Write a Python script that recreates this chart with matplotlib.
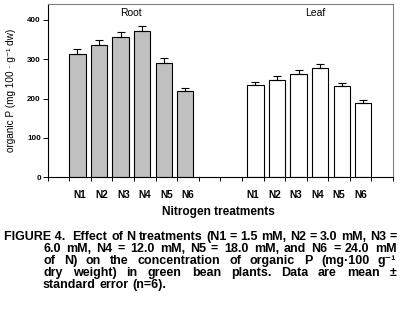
import matplotlib
matplotlib.use("Agg")
import matplotlib.pyplot as plt
import numpy as np

plt.rcParams['font.family'] = ['Liberation Sans', 'DejaVu Sans']

# data
treatments = ["N1", "N2", "N3", "N4", "N5", "N6"]
root_mean = [313, 336, 356, 371, 290, 219]
root_se = [12, 12, 14, 12, 13, 7]
leaf_mean = [234, 247, 262, 277, 232, 188]
leaf_se = [8, 10, 10, 11, 8, 8]

caption_lines = [
    "FIGURE 4.  Effect of N treatments (N1 = 1.5 mM, N2 = 3.0 mM, N3 =",
    "6.0 mM, N4 = 12.0 mM, N5 = 18.0 mM, and N6 = 24.0 mM",
    "of N) on the concentration of organic P (mg\u00b7100 g\u207b\u00b9",
    "dry weight) in green bean plants. Data are mean \u00b1",
    "standard error (n=6).",
]

W, H = 403, 310
fig = plt.figure(figsize=(W / 100, H / 100), dpi=100)
ax = fig.add_axes([47.7 / W, 1 - 177.3 / H, (393 - 47.7) / W, (177.3 - 4) / H])

n_cat = 16
root_pos = np.arange(1, 7)
leaf_pos = np.arange(9, 15)
bw = 0.755

ax.bar(root_pos, root_mean, width=bw, align="edge", color="#c0c0c0",
       edgecolor="black", linewidth=0.8)
ax.errorbar(root_pos + bw / 2, root_mean, yerr=[np.zeros(6), root_se], fmt="none",
            ecolor="black", elinewidth=0.8, capsize=3, capthick=0.8)
ax.bar(leaf_pos + 1 - bw, leaf_mean, width=bw, align="edge", color="white",
       edgecolor="black", linewidth=0.8)
ax.errorbar(leaf_pos + 1 - bw / 2, leaf_mean, yerr=[np.zeros(6), leaf_se], fmt="none",
            ecolor="black", elinewidth=0.8, capsize=3, capthick=0.8)

ax.set_xlim(0, n_cat)
ax.set_ylim(0, 440)
ax.set_yticks([0, 100, 200, 300, 400])
ax.tick_params(axis="y", direction="out", length=3.5, width=0.7, labelsize=5.8, pad=1.5)
for lb in ax.get_yticklabels():
    lb.set_fontweight("bold")

ax.set_xticks(np.arange(0, n_cat + 1))
ax.set_xticklabels([])
ax.set_xticks(np.concatenate([root_pos + 0.5, leaf_pos + 0.5]), minor=True)
ax.set_xticklabels(treatments + treatments, minor=True, fontsize=7.2, fontweight="bold")
ax.tick_params(axis="x", which="major", direction="out", length=3, width=0.7)
ax.tick_params(axis="x", which="minor", length=0, pad=9)

for side in ["top", "right"]:
    ax.spines[side].set_color("#808080")
for side in ["left", "bottom"]:
    ax.spines[side].set_linewidth(0.8)

ax.text(3.85, 416, "Root", ha="center", va="center", fontsize=7.5)
ax.text(12.4, 416, "Leaf", ha="center", va="center", fontsize=7.5)

ax.set_ylabel("organic P (mg 100 \u00b7 g\u207b\u00b9 dw)", fontsize=7.2)
ax.yaxis.set_label_coords(-(47.7 - 15.7) / (393 - 47.7), 0.5)
fig.text(218 / W, 1 - 211.7 / H, "Nitrogen treatments", ha="center", va="center",
         fontsize=8.6, fontweight="bold")

# caption, justified word by word (whole-pixel baselines keep the words level)
renderer = fig.canvas.get_renderer()
baselines = [240, 252, 264, 276, 288]
starts = [4, 43, 43, 43, 43]
right_edge = 396.7
cap_size = 9
for i, line in enumerate(caption_lines):
    words = [w for w in line.split(" ") if w != ""]
    if i == 0:
        words = ["FIGURE 4. "] + words[2:]
    texts = []
    widths = []
    for w in words:
        t = fig.text(starts[i] / W, 1 - baselines[i] / H, w, fontsize=cap_size,
                     fontweight="bold", ha="left", va="baseline")
        texts.append(t)
        widths.append(t.get_window_extent(renderer).width)
    if i < len(caption_lines) - 1 and len(words) > 1:
        gap = (right_edge - starts[i] - sum(widths)) / (len(words) - 1)
    else:
        gap = cap_size * 100 / 72 * 0.278
    x = starts[i]
    for t, wd in zip(texts, widths):
        t.set_x(round(x) / W)
        x += wd + gap

fig.savefig("out.png", dpi=100)
